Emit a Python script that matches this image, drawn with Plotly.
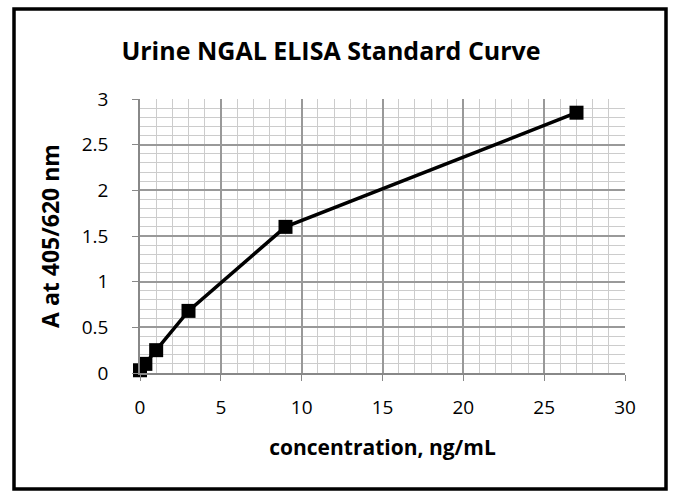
import plotly.graph_objects as go

concentration = [0, 0.333, 1, 3, 9, 27]
absorbance = [0.03, 0.10, 0.25, 0.68, 1.60, 2.85]

x_ticks = [0, 5, 10, 15, 20, 25, 30]
y_ticks = [0, 0.5, 1, 1.5, 2, 2.5, 3]
y_tick_labels = ["0", "0.5", "1", "1.5", "2", "2.5", "3"]

FONT = "Open Sans"

fig = go.Figure()
fig.add_trace(go.Scatter(
    x=concentration, y=absorbance, mode="lines+markers",
    line=dict(color="black", width=3.5),
    marker=dict(symbol="square", size=14, color="black"),
    showlegend=False, hoverinfo="x+y", cliponaxis=False,
))

fig.update_layout(
    width=674, height=491,
    margin=dict(l=140, r=49, t=99, b=118),
    paper_bgcolor="white", plot_bgcolor="white",
    font=dict(family=FONT, color="black", size=19),
    title=dict(text="<b>Urine NGAL ELISA Standard Curve</b>", x=331 / 674, xanchor="center",
               y=1 - 51 / 491, yanchor="middle", font=dict(size=25, family=FONT)),
    xaxis=dict(
        range=[0, 30], tickvals=x_ticks, ticks="outside", ticklen=6, tickcolor="#888",
        showline=True, linecolor="#888", linewidth=1.5,
        showgrid=True, gridcolor="#999", gridwidth=1.5,
        minor=dict(dtick=1, showgrid=True, gridcolor="#ccc", gridwidth=1),
        zeroline=False, tickfont=dict(size=19), ticklabelstandoff=10,
        title=dict(text="<b>concentration, ng/mL</b>", font=dict(size=21), standoff=22),
    ),
    yaxis=dict(
        range=[0, 3], tickvals=y_ticks, ticktext=y_tick_labels, ticks="outside", ticklen=6, tickcolor="#888",
        showline=True, linecolor="#888", linewidth=1.5,
        showgrid=True, gridcolor="#999", gridwidth=1.5,
        minor=dict(dtick=0.1, showgrid=True, gridcolor="#ccc", gridwidth=1),
        zeroline=False, tickfont=dict(size=19), ticklabelstandoff=20,
        title=dict(text="<b>A at 405/620 nm</b>", font=dict(size=23), standoff=16),
    ),
)

fig.add_shape(type="rect", xref="paper", yref="paper",
              x0=(14 - 140) / 485, x1=(666 - 140) / 485,
              y0=(373 - 489) / 274, y1=(373 - 9) / 274,
              line=dict(color="black", width=3.5), layer="below")

fig.write_html("out.html", post_script="document.body.style.margin='0';",
               config={"displayModeBar": False})
